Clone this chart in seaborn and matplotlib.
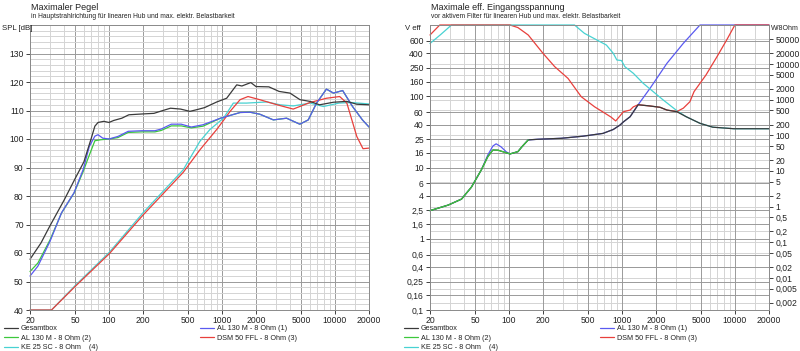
import numpy as np
import pandas as pd
import matplotlib
matplotlib.use("Agg")
import matplotlib.pyplot as plt
import matplotlib.ticker as mticker
import seaborn as sns

# ---- left panel: maximum SPL (dB) ----
f_ges_l = [20, 25, 30, 40, 50, 60, 70, 75, 80, 90, 100, 110, 130, 150, 200, 250, 300, 350, 430, 520,
           600, 700, 900, 1100, 1350, 1500, 1800, 2000, 2600, 3200, 4000, 4900, 6000, 7300, 9700,
           12700, 15600, 20000]
spl_ges = [57.8, 63.5, 69.5, 78.5, 86, 92, 100.5, 104.5, 105.8, 106.2, 105.8, 106.5, 107.3, 108.5,
           108.8, 109, 110, 110.8, 110.5, 109.7, 110.3, 111, 113, 114.3, 119, 118.6, 119.8, 118.4,
           118.3, 116.7, 116.1, 113.8, 113.2, 112, 112.9, 113.2, 112.2, 112]

f_al1_l = [20, 23.5, 30, 38, 49, 59, 67, 75, 80, 88, 100, 120, 148, 195, 255, 290, 356, 436, 535, 680,
           970, 1450, 1770, 2160, 2850, 3730, 4880, 5800, 6870, 8400, 9700, 11700, 14300, 17500, 20000]
spl_al1 = [51.9, 55.4, 64, 74.1, 81.1, 89.2, 97.4, 101, 101.5, 100.3, 100, 100.9, 102.7, 102.9, 102.9,
           103.5, 105.2, 105.2, 104.2, 105, 107.3, 109.3, 109.4, 108.7, 106.7, 107.3, 105.2, 106.7,
           112.6, 117.5, 116.1, 117, 111.4, 106.7, 104.2]

f_al2_l = [20, 23.5, 30, 38, 49, 59, 65, 70, 75, 85, 100, 120, 148, 195, 255, 290, 356, 436, 535, 680,
           970, 1450, 1770, 2160, 2850, 3730, 4880, 5800, 6870, 8400, 9700, 11700, 14300, 17500, 20000]
spl_al2 = [53.5, 56.5, 64.5, 74, 81, 88.5, 93, 96.3, 99.4, 99.75, 100, 100.5, 102.3, 102.5, 102.5,
           103, 104.6, 104.6, 103.9, 104.5, 107.3, 109.3, 109.4, 108.7, 106.7, 107.3, 105.2, 106.7,
           112.6, 117.5, 116.1, 117, 111.4, 106.7, 104.2]

f_dsm_l = [20, 31, 50, 101, 200, 454, 638, 905, 1030, 1180, 1446, 1700, 2157, 3080, 4270, 6000, 8400,
           11000, 12740, 15590, 17700, 20000]
spl_dsm = [40, 40, 48.2, 59.8, 73.3, 88.3, 96.2, 103.5, 106.5, 109.7, 113.8, 114.9, 113.8, 112, 110.5,
           112.8, 114.3, 114.9, 112.6, 100.9, 96.6, 96.8]

f_ke_l = [20, 31, 50, 101, 200, 454, 638, 781, 1030, 1260, 1650, 2500, 3260, 4270, 6000, 7900, 10850,
          14000, 20000]
spl_ke = [40, 40, 48.5, 60.3, 74.1, 89.2, 99.2, 103.3, 107.3, 112.6, 112.6, 113, 112, 111.6, 112.6,
          111.4, 112.6, 112.8, 112.3]

# ---- right panel: maximum input voltage (V eff) ----
f_ges_r = [20, 29, 38, 46.5, 57, 65, 72, 80, 90, 102, 120, 130, 148, 180, 290, 450, 679, 838, 960,
           1030, 1180, 1390, 1770, 2170, 2500, 3060, 3700, 4900, 6360, 9780, 20000]
v_ges = [2.48, 2.97, 3.6, 5.3, 9.3, 14.2, 17.6, 17.5, 16.5, 15.5, 16.7, 19.5, 24.4, 24.9, 25.7, 27.5,
         30.1, 34.2, 39.4, 43.7, 51.6, 76, 73, 70, 64, 60.6, 51.6, 41.7, 36.8, 35, 35]

f_al1_r = [20, 29, 38, 46.5, 57, 65, 72, 77, 85, 95, 102, 120, 130, 148, 180, 290, 450, 679, 838, 960,
           1030, 1180, 1390, 1770, 2500, 3490, 4900, 20000]
v_al1 = [2.48, 2.97, 3.6, 5.3, 9.3, 15, 20, 21.5, 19.5, 16.5, 15.5, 16.7, 19.5, 24.4, 24.9, 25.7, 27.5,
         30.1, 34.2, 39.4, 43.7, 51.6, 76, 129, 290, 553, 1000, 1000]

f_al2_r = [20, 29, 38, 46.5, 57, 65, 72, 80, 90, 102, 120, 130, 148]
v_al2 = [2.48, 2.97, 3.6, 5.3, 9.3, 14.2, 17.6, 17.5, 16.5, 15.5, 16.7, 19.5, 24.4]

f_dsm_r = [20, 24.4, 102, 120, 148, 200, 254, 333, 436, 573, 680, 800, 880, 950, 1030, 1180, 1260, 1390,
           1770, 2170, 2500, 3060, 3490, 3990, 4340, 5540, 6930, 8440, 9980, 20000]
v_dsm = [724, 1000, 1000, 920, 724, 400, 260, 178, 98.5, 71, 60, 51, 45, 52, 60.6, 64, 71, 76, 73, 70,
         64, 61, 68, 83.8, 116, 199, 359, 616, 1000, 1000]

f_ke_r = [20, 25, 31, 380, 465, 640, 727, 838, 900, 990, 1060, 1260, 1540, 1890, 2310, 3060, 3700, 4900,
          6360, 9780, 20000]
v_ke = [550, 740, 1000, 1000, 764, 583, 524, 400, 323, 317, 260, 210, 152, 116, 89, 62.7, 51.6, 41.7,
        36.8, 35, 35]

x_ticks = [20, 50, 100, 200, 500, 1000, 2000, 5000, 10000, 20000]
x_minor = [30, 40, 60, 70, 80, 90, 300, 400, 600, 700, 800, 900, 3000, 4000, 6000, 7000, 8000, 9000,
           15000]
v_ticks = [0.1, 0.16, 0.25, 0.4, 0.6, 1, 1.6, 2.5, 4, 6, 10, 16, 25, 40, 60, 100, 160, 250, 400, 600]
w_ticks = [50000, 20000, 10000, 5000, 2000, 1000, 500, 200, 100, 50, 20, 10, 5, 2, 1, 0.5, 0.2, 0.1,
           0.05, 0.02, 0.01, 0.005, 0.002]

names = ["Gesamtbox", "AL 130 M - 8 Ohm (1)", "AL 130 M - 8 Ohm (2)", "DSM 50 FFL - 8 Ohm (3)",
         "KE 25 SC - 8 Ohm    (4)"]
colors = {"Gesamtbox": "#3a3a3a", "AL 130 M - 8 Ohm (1)": "#5a5af0", "AL 130 M - 8 Ohm (2)": "#3cc83c",
          "DSM 50 FFL - 8 Ohm (3)": "#e8403c", "KE 25 SC - 8 Ohm    (4)": "#48d2d2"}

sns.set_style("white")
plt.rcParams["font.family"] = ["Liberation Sans", "DejaVu Sans"]

fig = plt.figure(figsize=(8, 3.51), dpi=100)
axL = fig.add_axes([30 / 800, 1 - 310 / 351, 339 / 800, 285 / 351])
axR = fig.add_axes([430 / 800, 1 - 310 / 351, 339 / 800, 285 / 351])

fmt = lambda v: ("%g" % v).replace(".", ",")
TXT = "#222222"

for ax in (axL, axR):
    ax.set_xscale("log")
    ax.set_xlim(20, 20000)
    ax.xaxis.set_major_locator(mticker.FixedLocator(x_ticks))
    ax.xaxis.set_minor_locator(mticker.FixedLocator(x_minor))
    ax.xaxis.set_major_formatter(mticker.FixedFormatter([str(t) for t in x_ticks]))
    ax.xaxis.set_minor_formatter(mticker.NullFormatter())
    ax.grid(which="major", axis="x", color="#9a9a9a", lw=0.7)
    ax.grid(which="minor", axis="x", color="#d4d4d4", lw=0.7)
    ax.tick_params(axis="both", which="major", labelsize=6.2, length=3, width=0.6, pad=1.5,
                   colors=TXT, bottom=True, left=True)
    ax.tick_params(axis="both", which="minor", length=0)
    for s in ax.spines.values():
        s.set_color("#8a8a8a")
        s.set_linewidth(0.7)

# left panel
axL.set_ylim(40, 140)
axL.yaxis.set_major_locator(mticker.FixedLocator(range(40, 140, 10)))
axL.yaxis.set_minor_locator(mticker.MultipleLocator(2))
axL.grid(which="major", axis="y", color="#9a9a9a", lw=0.7)
axL.grid(which="minor", axis="y", color="#d4d4d4", lw=0.7)

left_series = [("AL 130 M - 8 Ohm (2)", f_al2_l, spl_al2), ("KE 25 SC - 8 Ohm    (4)", f_ke_l, spl_ke),
               ("DSM 50 FFL - 8 Ohm (3)", f_dsm_l, spl_dsm), ("AL 130 M - 8 Ohm (1)", f_al1_l, spl_al1),
               ("Gesamtbox", f_ges_l, spl_ges)]
for name, f, v in left_series:
    sns.lineplot(x=f, y=v, ax=axL, color=colors[name], lw=0.9, legend=False, clip_on=False)
axL.set_xlabel("")
axL.set_ylabel("")
fig.text(2 / 800, 1 - 28 / 351, "SPL [dB]", ha="left", va="center", fontsize=5.6, color=TXT)
fig.text(31 / 800, 1 - 7 / 351, "Maximaler Pegel", fontsize=6.5, va="center", color=TXT)
fig.text(31 / 800, 1 - 17 / 351, "in Hauptstrahlrichtung für linearen Hub und max. elektr. Belastbarkeit",
         fontsize=4.8, va="center", color=TXT)

# right panel
axR.set_yscale("log")
axR.set_ylim(0.1, 1000)
axR.yaxis.set_major_locator(mticker.FixedLocator(v_ticks))
axR.yaxis.set_major_formatter(mticker.FixedFormatter([fmt(t) for t in v_ticks]))
axR.yaxis.set_minor_locator(mticker.NullLocator())
axR.grid(which="major", axis="y", color="#9a9a9a", lw=0.7)

right_series = [("AL 130 M - 8 Ohm (1)", f_al1_r, v_al1), ("KE 25 SC - 8 Ohm    (4)", f_ke_r, v_ke),
                ("DSM 50 FFL - 8 Ohm (3)", f_dsm_r, v_dsm), ("Gesamtbox", f_ges_r, v_ges),
                ("AL 130 M - 8 Ohm (2)", f_al2_r, v_al2)]
for name, f, v in right_series:
    sns.lineplot(x=f, y=v, ax=axR, color=colors[name], lw=0.9, legend=False, clip_on=False)
axR.set_xlabel("")
axR.set_ylabel("")
fig.text(405 / 800, 1 - 28 / 351, "V eff", ha="left", va="center", fontsize=5.6, color=TXT)

axW = axR.twinx()
axW.set_yscale("log")
axW.set_ylim(0.1 ** 2 / 8, 1000 ** 2 / 8)
axW.yaxis.set_major_locator(mticker.FixedLocator(w_ticks))
axW.yaxis.set_major_formatter(mticker.FixedFormatter([fmt(t) for t in w_ticks]))
axW.yaxis.set_minor_locator(mticker.NullLocator())
axW.grid(which="major", axis="y", color="#d4d4d4", lw=0.7)
axW.set_zorder(axR.get_zorder() - 1)
axR.patch.set_visible(False)
axW.tick_params(axis="y", labelsize=6.2, length=3, width=0.6, pad=1.5, colors=TXT)
for s in axW.spines.values():
    s.set_visible(False)
fig.text(771 / 800, 1 - 28 / 351, "W/8Ohm", ha="left", va="center", fontsize=5.0, color=TXT)
fig.text(431 / 800, 1 - 7 / 351, "Maximale eff. Eingangsspannung", fontsize=6.5, va="center", color=TXT)
fig.text(431 / 800, 1 - 17 / 351, "vor aktivem Filter für linearen Hub und max. elektr. Belastbarkeit",
         fontsize=4.8, va="center", color=TXT)

# legends below both panels
order = ["Gesamtbox", "AL 130 M - 8 Ohm (2)", "KE 25 SC - 8 Ohm    (4)", "AL 130 M - 8 Ohm (1)",
         "DSM 50 FFL - 8 Ohm (3)"]
for x0 in (4, 404):
    handles = [plt.Line2D([], [], color=colors[n], lw=0.9) for n in order]
    leg = fig.legend(handles, order, loc="upper left", bbox_to_anchor=(x0 / 800, 1 - 325 / 351), ncol=2,
                     fontsize=5.2, frameon=False, handlelength=1.9, handletextpad=0.4, labelspacing=0.35,
                     columnspacing=14.2, borderaxespad=0, borderpad=0)
    for t in leg.get_texts():
        t.set_color(TXT)

fig.savefig("out.png", dpi=100, facecolor="white")
